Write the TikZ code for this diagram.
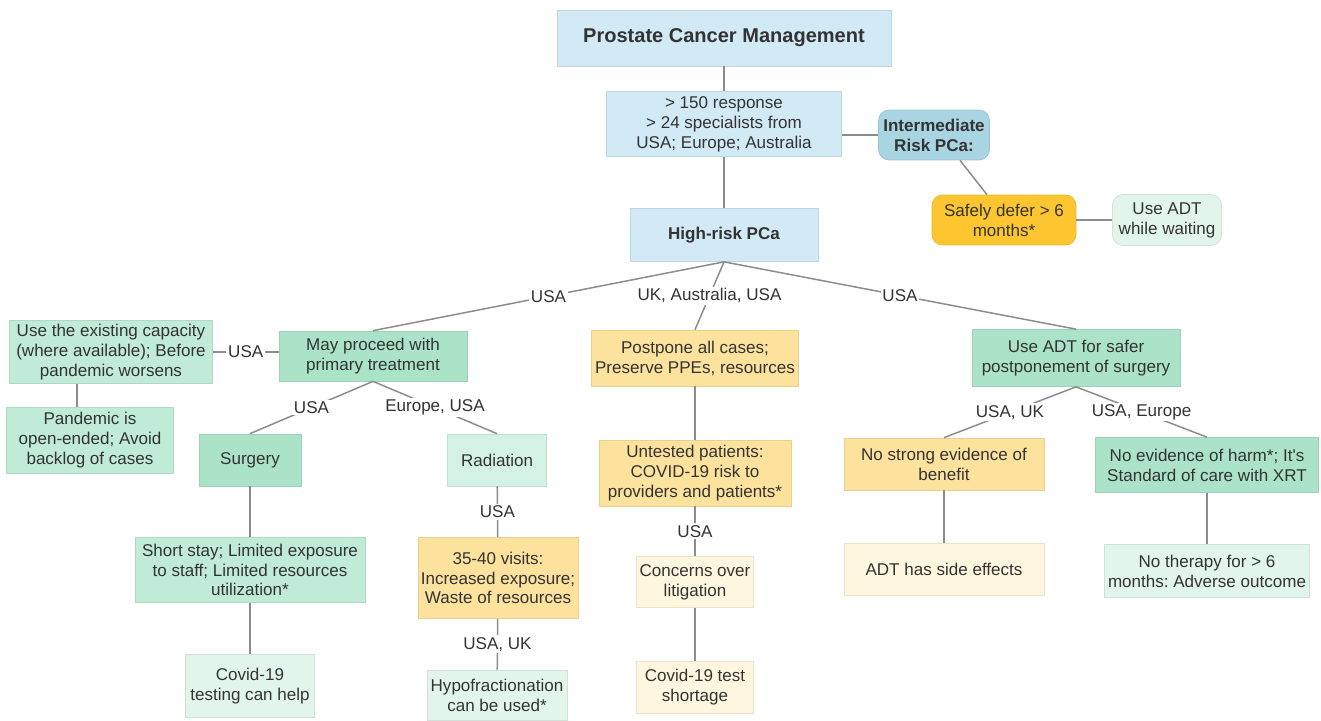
\documentclass[tikz,border=0pt]{standalone}
\usepackage{fontspec}
\setmainfont{Liberation Sans}
\usetikzlibrary{calc}
\frenchspacing
\definecolor{ink}{HTML}{333333}
\definecolor{wire}{HTML}{8C8C8C}
\definecolor{skyA}{HTML}{D2E9F6}
\definecolor{skyB}{HTML}{A9D4E2}
\definecolor{gold}{HTML}{FDC630}
\definecolor{sand}{HTML}{FDE29E}
\definecolor{cream}{HTML}{FEF6DE}
\definecolor{mintA}{HTML}{ABE3C8}
\definecolor{mintB}{HTML}{C0EBD6}
\definecolor{mintC}{HTML}{D3F2E3}
\definecolor{mintD}{HTML}{E2F5EC}
\begin{document}
\begin{tikzpicture}[x=0.02cm,y=-0.02cm,
  box/.style={rectangle,fill=#1,draw=#1!92!black,line width=0.4pt,align=center,inner sep=1pt,
    text=ink,font=\fontsize{9.7}{11.3}\selectfont},
  rbox/.style={box=#1,rounded corners=6pt},
  lab/.style={fill=white,inner sep=1pt,text=ink,font=\fontsize{9.7}{11.3}\selectfont},
  link/.style={draw=wire,line width=0.85pt}]
\useasboundingbox (0,0) rectangle (1321,720);
% top
\node[box=skyA,minimum width=6.68cm,minimum height=1.12cm,font=\fontsize{11.4}{13}\selectfont\bfseries] (title) at (724,38) {Prostate Cancer Management};
\node[box=skyA,minimum width=4.7cm,minimum height=1.3cm] (resp) at (724,124) {> 150 response\\> 24 specialists from\\USA; Europe; Australia};
\node[rbox=skyB,minimum width=2.22cm,minimum height=1cm,font=\fontsize{9.7}{11.3}\selectfont\bfseries] (inter) at (934,135) {Intermediate\\Risk PCa:};
\node[rbox=gold,minimum width=2.88cm,minimum height=1cm] (defer) at (1004,220) {Safely defer > 6\\months*};
\node[rbox=mintD,minimum width=2.18cm,minimum height=1.02cm] (wait) at (1167,220) {Use ADT\\while waiting};
\node[box=skyA,minimum width=3.76cm,minimum height=1.06cm,font=\fontsize{9.7}{11.3}\selectfont\bfseries] (high) at (724,235) {High-risk PCa};
% left branch
\node[box=mintB,minimum width=4.06cm,minimum height=1.26cm] (capac) at (111,352) {Use the existing capacity\\(where available); Before\\pandemic worsens};
\node[box=mintA,minimum width=3.76cm,minimum height=1cm] (proceed) at (373,356) {May proceed with\\primary treatment};
\node[box=mintB,minimum width=3.34cm,minimum height=1.32cm] (openend) at (90,440) {Pandemic is\\open-ended; Avoid\\backlog of cases};
\node[box=mintA,minimum width=2.04cm,minimum height=1.04cm] (surg) at (250,460) {Surgery};
\node[box=mintC,minimum width=1.98cm,minimum height=1.04cm] (rad) at (497,460) {Radiation};
\node[box=mintB,minimum width=4.6cm,minimum height=1.3cm] (stay) at (250,570) {Short stay; Limited exposure\\to staff; Limited resources\\utilization*};
\node[box=sand,minimum width=3.2cm,minimum height=1.62cm] (visits) at (498,578) {35-40 visits:\\Increased exposure;\\Waste of resources};
\node[box=mintD,minimum width=2.58cm,minimum height=1.26cm] (testhelp) at (250,686) {Covid-19\\testing can help};
\node[box=mintD,minimum width=2.8cm,minimum height=1cm] (hypo) at (497,695) {Hypofractionation\\can be used*};
% middle branch
\node[box=sand,minimum width=4.14cm,minimum height=1.12cm] (postp) at (695,358) {Postpone all cases;\\Preserve PPEs, resources};
\node[box=sand,minimum width=3.84cm,minimum height=1.32cm] (untest) at (695,473) {Untested patients:\\COVID-19 risk to\\providers and patients*};
\node[box=cream,minimum width=2.34cm,minimum height=1.02cm] (litig) at (695,582) {Concerns over\\litigation};
\node[box=cream,minimum width=2.34cm,minimum height=1.04cm] (shortage) at (695,687) {Covid-19 test\\shortage};
% right branch
\node[box=mintA,minimum width=4.16cm,minimum height=1.14cm] (adt) at (1076,358) {Use ADT for safer\\postponement of surgery};
\node[box=sand,minimum width=4cm,minimum height=1.04cm] (nobenef) at (944,464) {No strong evidence of\\benefit};
\node[box=mintA,minimum width=4.46cm,minimum height=1.1cm] (noharm) at (1207,465) {No evidence of harm*; It\textquotesingle s\\Standard of care with XRT};
\node[box=cream,minimum width=4cm,minimum height=1.04cm] (side) at (944,569) {ADT has side effects};
\node[box=mintD,minimum width=4.1cm,minimum height=1.06cm] (nother) at (1207,571) {No therapy for > 6\\months: Adverse outcome};
% links
\draw[link] (title) -- (resp);
\draw[link] (resp) -- (high);
\draw[link] (inter.west) -- (inter.west -| resp.east);
\draw[link] (inter.south) ++(26,0) -- ($(defer.north)+(-17,0)$);
\draw[link] (defer) -- (wait);
\draw[link] (high.south) -- node[lab]{USA} (proceed.north);
\draw[link] (high.south) -- node[lab]{UK, Australia, USA} (postp.north);
\draw[link] (high.south) -- node[lab]{USA} (adt.north);
\draw[link] (proceed.west |- capac) -- node[lab]{USA} (capac.east);
\coordinate (pk) at ($(openend.north)+(-13,0)$);
\draw[link] (pk) -- (pk |- capac.south);
\draw[link] (proceed.south) -- node[lab]{USA} (surg.north);
\draw[link] (proceed.south) -- node[lab]{Europe, USA} (rad.north);
\draw[link] (surg) -- (stay);
\draw[link] (stay) -- (testhelp);
\draw[link] (rad) -- node[lab]{USA} (visits);
\draw[link] (visits) -- node[lab]{USA, UK} (hypo);
\draw[link] (postp) -- (untest);
\draw[link] (untest) -- node[lab]{USA} (litig);
\draw[link] (litig) -- (shortage);
\draw[link] (adt.south) -- node[lab]{USA, UK} (nobenef.north);
\draw[link] (adt.south) -- node[lab]{USA, Europe} (noharm.north);
\draw[link] (nobenef) -- (side);
\draw[link] (noharm) -- (nother);
\end{tikzpicture}
\end{document}
